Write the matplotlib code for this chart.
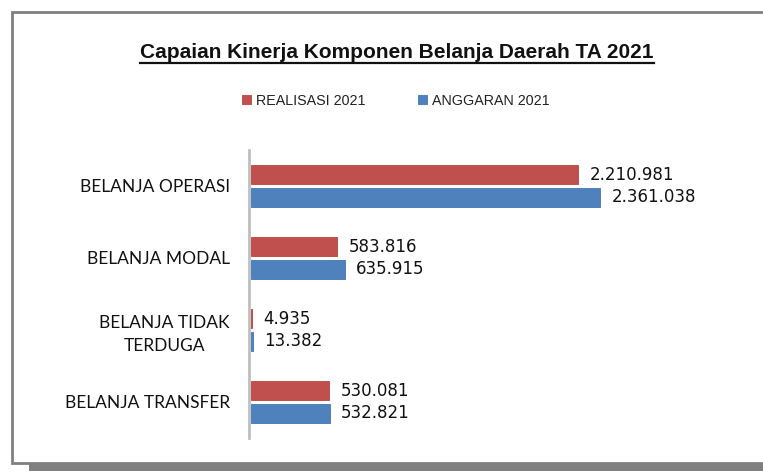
import matplotlib
matplotlib.use("Agg")
import matplotlib.pyplot as plt
from matplotlib.patches import Rectangle
import numpy as np

categories = ["BELANJA OPERASI", "BELANJA MODAL", "BELANJA TIDAK\nTERDUGA", "BELANJA TRANSFER"]
realisasi = [2210981, 583816, 4935, 530081]
anggaran = [2361038, 635915, 13382, 532821]
realisasi_labels = ["2.210.981", "583.816", "4.935", "530.081"]
anggaran_labels = ["2.361.038", "635.915", "13.382", "532.821"]
series_names = ["REALISASI 2021", "ANGGARAN 2021"]
title = "Capaian Kinerja Komponen Belanja Daerah TA 2021"

RED = "#C0504D"
BLUE = "#4F81BD"
W, H = 763, 472

fig = plt.figure(figsize=(W / 100, H / 100), dpi=100)
fig.patch.set_facecolor("white")

# frame with shadow
fig.patches.append(Rectangle((29 / W, (H - 471) / H), 1.0, 10 / H, transform=fig.transFigure,
                             facecolor="#808080", edgecolor="none", zorder=0))
fig.patches.append(Rectangle((12 / W, (H - 463) / H), (W + 10) / W, (463 - 12) / H, transform=fig.transFigure,
                             facecolor="white", edgecolor="#808080", linewidth=2, zorder=1))

ax = fig.add_axes([251 / W, 1 - 438 / H, 444 / W, (438 - 150) / H])
ax.set_zorder(5)
ax.set_facecolor("none")
for s in ["top", "right", "bottom"]:
    ax.spines[s].set_visible(False)
ax.spines["left"].set_position(("outward", 1.2))
ax.spines["left"].set_color("#BFBFBF")
ax.spines["left"].set_linewidth(2)

y = np.arange(len(categories))
h = 0.26
off = 0.155
ax.barh(y - off, realisasi, height=h, color=RED, edgecolor=RED, linewidth=0.7, label=series_names[0], zorder=3)
ax.barh(y + off, anggaran, height=h, color=BLUE, edgecolor=BLUE, linewidth=0.7, label=series_names[1], zorder=3)
ax.set_xlim(0, 3000000)
ax.set_ylim(len(categories) - 0.5, -0.5)
ax.set_xticks([])
ax.set_yticks(y)
ax.set_yticklabels(categories, fontsize=12.5, family="Lato", multialignment="center",
                   color="#111111", linespacing=1.5)
ax.tick_params(axis="y", length=0, pad=14)

for yi, v, lab in zip(y - off, realisasi, realisasi_labels):
    ax.annotate(lab, (v, yi), xytext=(8, 0), textcoords="offset points", va="center", ha="left",
                fontsize=12, family="DejaVu Sans", color="#111111")
for yi, v, lab in zip(y + off, anggaran, anggaran_labels):
    ax.annotate(lab, (v, yi), xytext=(8, 0), textcoords="offset points", va="center", ha="left",
                fontsize=12, family="DejaVu Sans", color="#111111")

t = fig.text(397 / W, 1 - 53 / H, title, ha="center", va="center", fontsize=15, fontweight="bold",
             family="Liberation Sans", color="#111111", zorder=6)
fig.canvas.draw()
bb = t.get_window_extent()
x0, x1 = bb.x0 / fig.bbox.width, bb.x1 / fig.bbox.width
yl = 1 - 63 / H
fig.add_artist(plt.Line2D([x0, x1], [yl, yl], transform=fig.transFigure, color="#111111",
                          linewidth=1.6, zorder=6))

leg = fig.legend(loc="center", bbox_to_anchor=(396 / W, 1 - 101 / H), ncol=2, frameon=False,
                 handlelength=0.6, handleheight=0.6, columnspacing=3.7, handletextpad=0.35,
                 prop={"family": "Liberation Sans", "size": 10.3})
leg.set_zorder(6)
for txt in leg.get_texts():
    txt.set_color("#222222")

fig.savefig("out.png", dpi=100, facecolor="white")
